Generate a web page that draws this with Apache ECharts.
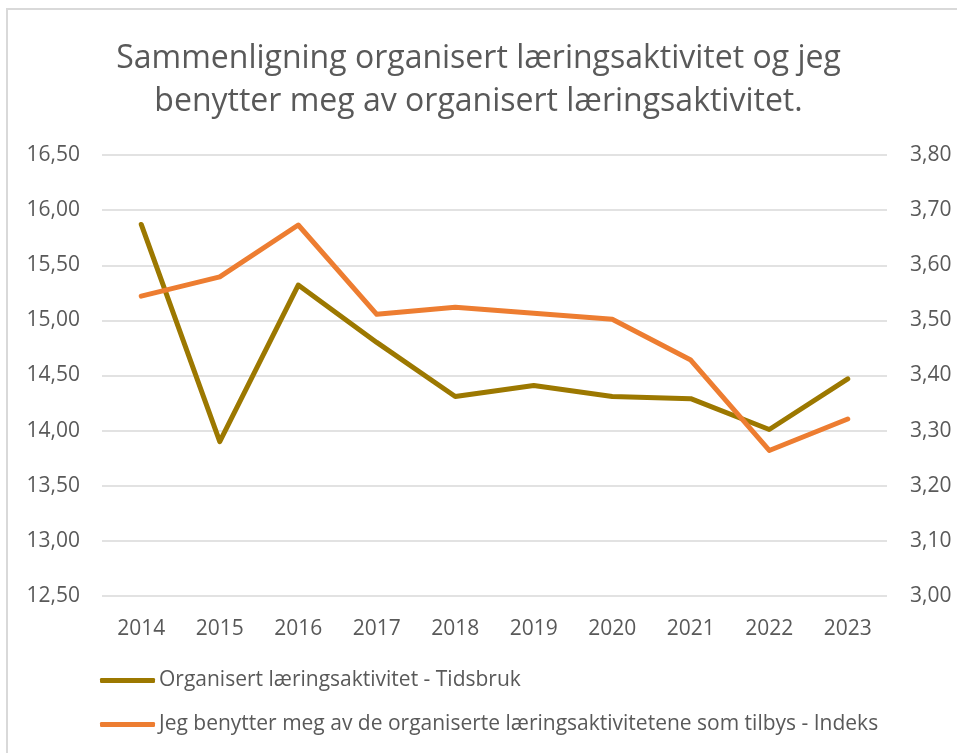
<!DOCTYPE html>
<html>
<head>
<meta charset="utf-8">
<script src="https://cdn.jsdelivr.net/npm/echarts@6/dist/echarts.min.js"></script>
<style>
  html, body { margin: 0; padding: 0; background: #fff; }
  #chart { width: 957px; height: 753px; }
</style>
</head>
<body>
<div id="chart"></div>
<script>
// data
const years = ['2014', '2015', '2016', '2017', '2018', '2019', '2020', '2021', '2022', '2023'];
const tidsbruk = [15.87, 13.90, 15.32, 14.80, 14.31, 14.41, 14.31, 14.29, 14.01, 14.47];
const indeks = [3.544, 3.579, 3.673, 3.511, 3.524, 3.513, 3.502, 3.428, 3.264, 3.321];
const seriesNames = [
  'Organisert læringsaktivitet - Tidsbruk',
  'Jeg benytter meg av de organiserte læringsaktivitetene som tilbys - Indeks'
];
const titleText = 'Sammenligning organisert læringsaktivitet og jeg\nbenytter meg av organisert læringsaktivitet.';

const olive = '#9C7800';
const orange = '#ED7D31';
const grey = '#595959';
const font = 'Open Sans';

const fmt = v => v.toFixed(2).replace('.', ',');

const chart = echarts.init(document.getElementById('chart'));
chart.setOption({
  backgroundColor: '#fff',
  animation: false,
  // chart-area frame, only its top-left corner is inside the picture
  graphic: [{
    type: 'rect',
    silent: true,
    shape: { x: 7, y: 9, width: 1000, height: 1000 },
    style: { fill: 'none', stroke: '#D9D9D9', lineWidth: 2 }
  }],
  title: {
    text: titleText,
    left: 'center',
    top: 32,
    textStyle: { fontFamily: font, fontSize: 32, fontWeight: 'normal', color: grey, lineHeight: 43 }
  },
  legend: {
    orient: 'vertical',
    left: 95,
    top: 665,
    itemGap: 23,
    itemWidth: 55,
    itemHeight: 5,
    icon: 'roundRect',
    textStyle: { fontFamily: font, fontSize: 21, color: grey, padding: [0, 0, 0, -1] },
    data: seriesNames
  },
  grid: { left: 102, right: 70, top: 155, bottom: 157 },
  xAxis: {
    type: 'category',
    data: years,
    boundaryGap: true,
    axisLine: { show: false },
    axisTick: { show: false },
    axisLabel: { fontFamily: font, fontSize: 21, color: grey, margin: 23 }
  },
  yAxis: [
    {
      type: 'value',
      min: 12.5, max: 16.5, interval: 0.5,
      axisLine: { show: false },
      axisTick: { show: false },
      splitLine: { lineStyle: { color: '#D9D9D9', width: 1.5 } },
      axisLabel: { fontFamily: font, fontSize: 21, color: grey, margin: 22, formatter: fmt }
    },
    {
      type: 'value',
      min: 3.0, max: 3.8, interval: 0.1,
      axisLine: { show: false },
      axisTick: { show: false },
      splitLine: { show: false },
      axisLabel: { fontFamily: font, fontSize: 21, color: grey, margin: 23, formatter: fmt }
    }
  ],
  series: [
    {
      name: seriesNames[0],
      type: 'line',
      yAxisIndex: 0,
      data: tidsbruk,
      symbol: 'none',
      lineStyle: { color: olive, width: 5, cap: 'round', join: 'round' },
      itemStyle: { color: olive }
    },
    {
      name: seriesNames[1],
      type: 'line',
      yAxisIndex: 1,
      data: indeks,
      symbol: 'none',
      lineStyle: { color: orange, width: 5, cap: 'round', join: 'round' },
      itemStyle: { color: orange }
    }
  ]
});
</script>
</body>
</html>
